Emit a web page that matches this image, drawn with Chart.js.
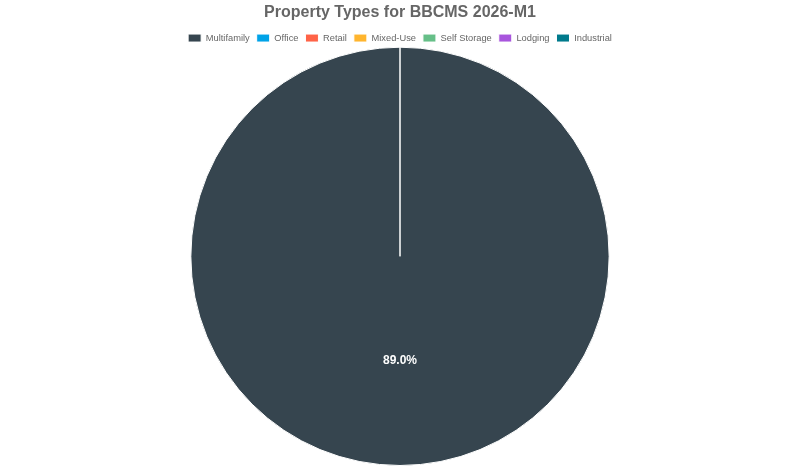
<!DOCTYPE html>
<html>
<head>
<meta charset="utf-8">
<script src="https://cdn.jsdelivr.net/npm/chart.js@4"></script>
<style>
  html, body { margin: 0; padding: 0; background: #fff; }
  #wrap { width: 800px; height: 466px; }
</style>
</head>
<body>
<div id="wrap"><canvas id="chart"></canvas></div>
<script>
const categories = ["Multifamily", "Office", "Retail", "Mixed-Use", "Self Storage", "Lodging", "Industrial"];
const shares = [89.0, 0, 0, 0, 0, 0, 0];
const colors = ["#36454f", "#00a3e8", "#ff6347", "#ffb52e", "#66bf88", "#a855dd", "#007a8c"];

// draws the percentage on each slice
const sliceLabels = {
  id: "sliceLabels",
  afterDatasetsDraw(chart) {
    const ctx = chart.ctx;
    const meta = chart.getDatasetMeta(0);
    ctx.save();
    ctx.font = "bold 12px 'Liberation Sans', Arial, sans-serif";
    ctx.fillStyle = "#fff";
    ctx.textAlign = "center";
    ctx.textBaseline = "middle";
    meta.data.forEach((arc, i) => {
      const v = shares[i];
      if (!v) return;
      const p = arc.getCenterPoint();
      ctx.fillText(v.toFixed(1) + "%", p.x, p.y);
    });
    ctx.restore();
  }
};

// pull the pie up a little closer to the legend
const tightLegend = {
  id: "tightLegend",
  beforeLayout(chart) {
    const lg = chart.legend;
    if (!lg || lg._tight) return;
    const fit = lg.fit;
    lg.fit = function () {
      fit.call(this);
      this.height -= 6;
    };
    lg._tight = true;
  }
};

Chart.defaults.font.family = "'Liberation Sans', Arial, sans-serif";
Chart.defaults.color = "#666";

new Chart(document.getElementById("chart").getContext("2d"), {
  type: "pie",
  data: {
    labels: categories,
    datasets: [{
      data: shares,
      backgroundColor: colors,
      borderColor: "#fff",
      borderWidth: 1
    }]
  },
  options: {
    responsive: true,
    maintainAspectRatio: false,
    animation: false,
    layout: { padding: 0 },
    plugins: {
      title: {
        display: true,
        text: "Property Types for BBCMS 2026-M1",
        font: { size: 16, weight: "bold" },
        color: "#666",
        padding: { top: 3.4, bottom: 3.8 }
      },
      legend: {
        position: "top",
        labels: { boxWidth: 13, boxHeight: 8, font: { size: 9.3 }, padding: 7, color: "#666" }
      },
      tooltip: { enabled: false }
    }
  },
  plugins: [sliceLabels, tightLegend]
});
</script>
</body>
</html>
